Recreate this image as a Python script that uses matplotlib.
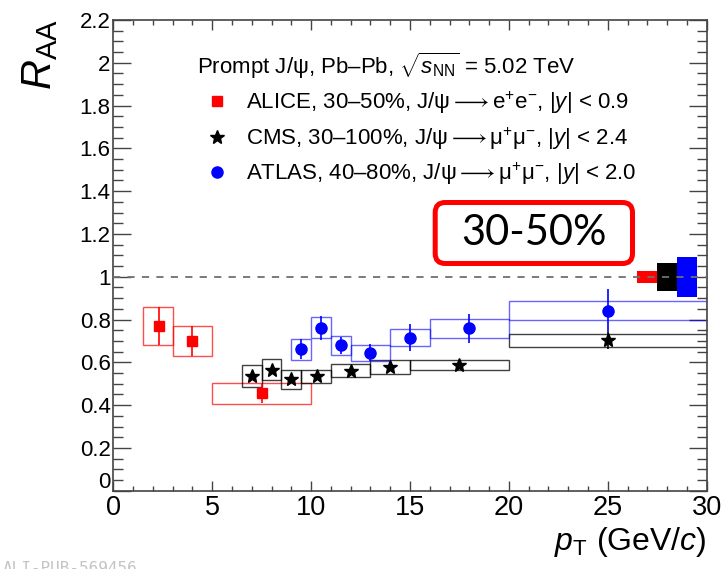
import matplotlib
matplotlib.use('Agg')
import matplotlib.pyplot as plt
import numpy as np
from matplotlib.ticker import MultipleLocator, FuncFormatter
from matplotlib.patches import FancyBboxPatch
from matplotlib.transforms import IdentityTransform

plt.rcParams['font.family'] = ['Liberation Sans', 'DejaVu Sans']
plt.rcParams['mathtext.fontset'] = 'custom'
plt.rcParams['mathtext.rm'] = 'Liberation Sans'
plt.rcParams['mathtext.it'] = 'Liberation Sans:italic'
plt.rcParams['mathtext.bf'] = 'Liberation Sans:bold'

# ALICE, 30-50%, J/psi -> ee, |y| < 0.9
alice_lo = [1.5, 3.0, 5.0]
alice_hi = [3.0, 5.0, 10.0]
alice_pt = [2.3, 4.0, 7.5]
alice_raa = [0.77, 0.70, 0.455]
alice_stat = [0.09, 0.07, 0.045]
alice_sys = [0.087, 0.07, 0.05]

# CMS, 30-100%, J/psi -> mumu, |y| < 2.4
cms_lo = [6.5, 7.5, 8.5, 9.5, 11.0, 13.0, 15.0, 20.0]
cms_hi = [7.5, 8.5, 9.5, 11.0, 13.0, 15.0, 20.0, 30.0]
cms_pt = [7.0, 8.0, 9.0, 10.3, 12.0, 14.0, 17.5, 25.0]
cms_raa = [0.536, 0.566, 0.52, 0.535, 0.561, 0.577, 0.586, 0.702]
cms_stat = [0.02, 0.02, 0.018, 0.015, 0.015, 0.018, 0.015, 0.04]
cms_sys = [0.05, 0.048, 0.044, 0.031, 0.029, 0.033, 0.023, 0.029]

# ATLAS, 40-80%, J/psi -> mumu, |y| < 2.0
atlas_lo = [9.0, 10.0, 11.0, 12.0, 14.0, 16.0, 20.0]
atlas_hi = [10.0, 11.0, 12.0, 14.0, 16.0, 20.0, 30.0]
atlas_pt = [9.5, 10.5, 11.5, 13.0, 15.0, 18.0, 25.0]
atlas_raa = [0.661, 0.762, 0.679, 0.645, 0.715, 0.759, 0.841]
atlas_stat = [0.047, 0.056, 0.04, 0.04, 0.062, 0.068, 0.10]
atlas_sys = [0.05, 0.05, 0.043, 0.038, 0.041, 0.045, 0.045]

# global normalisation uncertainties drawn at R_AA = 1
glob_lo = [26.5, 27.5, 28.5]
glob_hi = [27.5, 28.5, 29.5]
glob_unc = [0.028, 0.066, 0.093]
glob_colors = ['red', 'black', 'blue']

fig = plt.figure(figsize=(7.25, 5.69), dpi=100)
ax = fig.add_axes([0.1563, 0.1376, 0.8185, 0.8273])


def draw_set(lo, hi, pt, raa, stat, sys, color, box_alpha, marker, ms, label):
    lo, hi, raa, sys = (np.asarray(a) for a in (lo, hi, raa, sys))
    ax.bar(lo, 2 * sys, width=hi - lo, bottom=raa - sys, align='edge',
           fill=False, edgecolor=color, linewidth=1.0, alpha=box_alpha, zorder=2)
    ax.errorbar(pt, raa, yerr=stat, fmt='none', ecolor=color,
                elinewidth=1.2, capsize=0, zorder=3)
    ax.plot(pt, raa, marker, color=color, ms=ms, ls='none', label=label, zorder=4)


draw_set(alice_lo, alice_hi, alice_pt, alice_raa, alice_stat, alice_sys,
         'red', 0.7, 's', 7.5,
         r'ALICE, 30–50%, J/ψ$\longrightarrow$e$^{+}$e$^{-}$, |$y$| < 0.9')
draw_set(cms_lo, cms_hi, cms_pt, cms_raa, cms_stat, cms_sys,
         'black', 0.75, '*', 10,
         r'CMS, 30–100%, J/ψ$\longrightarrow$μ$^{+}$μ$^{-}$, |$y$| < 2.4')
draw_set(atlas_lo, atlas_hi, atlas_pt, atlas_raa, atlas_stat, atlas_sys,
         'blue', 0.6, 'o', 8,
         r'ATLAS, 40–80%, J/ψ$\longrightarrow$μ$^{+}$μ$^{-}$, |$y$| < 2.0')

gl = np.asarray(glob_lo)
gh = np.asarray(glob_hi)
gu = np.asarray(glob_unc)
ax.bar(gl, 2 * gu, width=gh - gl, bottom=1 - gu, align='edge',
       color=glob_colors, linewidth=0, zorder=2)
ax.axhline(1.0, color='#707070', lw=1.3, ls=(0, (4, 4)), zorder=5)

ax.set_xlim(0, 30)
ax.set_ylim(0, 2.2)
ax.xaxis.set_major_locator(MultipleLocator(5))
ax.xaxis.set_minor_locator(MultipleLocator(1))
ax.yaxis.set_major_locator(MultipleLocator(0.2))
ax.yaxis.set_minor_locator(MultipleLocator(0.05))
# the y "0" is drawn separately, lifted off the x-axis "0"
ax.yaxis.set_major_formatter(FuncFormatter(
    lambda v, p: '' if abs(v) < 1e-9 else f'{v:.1f}'.rstrip('0').rstrip('.')))
ax.annotate('0', xy=(0, 0), xytext=(-2.2, 6), textcoords='offset points',
            ha='right', va='center', fontsize=16, annotation_clip=False)

for sp in ax.spines.values():
    sp.set_color('#444444')
    sp.set_linewidth(1.2)
ax.tick_params(which='both', direction='in', top=True, right=True,
               color='#444444', width=1.0)
ax.tick_params(axis='y', which='major', length=13, labelsize=16, pad=2)
ax.tick_params(axis='y', which='minor', length=7)
ax.tick_params(axis='x', which='major', length=7, labelsize=19.5, pad=3)
ax.tick_params(axis='x', which='minor', length=3.6)

fig.text(0.056, 0.966, r'$R_{\rm AA}$', rotation=90, ha='center', va='top',
         fontsize=30)
fig.text(0.9748, 1 - 550 / 569, r'$p_{\rm T}$ (GeV/$c$)', ha='right',
         va='baseline', fontsize=23)

ax.legend(loc='upper left', bbox_to_anchor=(196.7 / 725, 1 - 50 / 569),
          bbox_transform=fig.transFigure, frameon=False, fontsize=16,
          title=r'Prompt J/ψ, Pb–Pb, $\sqrt{s_{\rm NN}}$ = 5.02 TeV',
          title_fontsize=16, alignment='left', handlelength=1.8,
          handletextpad=0.4, labelspacing=0.4, borderpad=0, borderaxespad=0)

# centrality tag with rounded red frame (pixel coordinates)
tag = FancyBboxPatch((435.2, 569 - 263.5), 197.3, 61,
                     boxstyle='round,pad=0,rounding_size=10',
                     transform=IdentityTransform(), facecolor='white',
                     edgecolor='red', linewidth=3.6, zorder=6)
fig.patches.append(tag)
fig.text(533.8 / 725, 1 - 233 / 569, '30-50%', family='Lato', fontsize=30,
         ha='center', va='center', zorder=7)

fig.text(3 / 725, 1 - 561 / 569, 'ALI-PUB-569456', color='#c4c4c4',
         fontsize=11.5, va='top', family='DejaVu Sans Mono')

fig.savefig('out.png', dpi=100)
